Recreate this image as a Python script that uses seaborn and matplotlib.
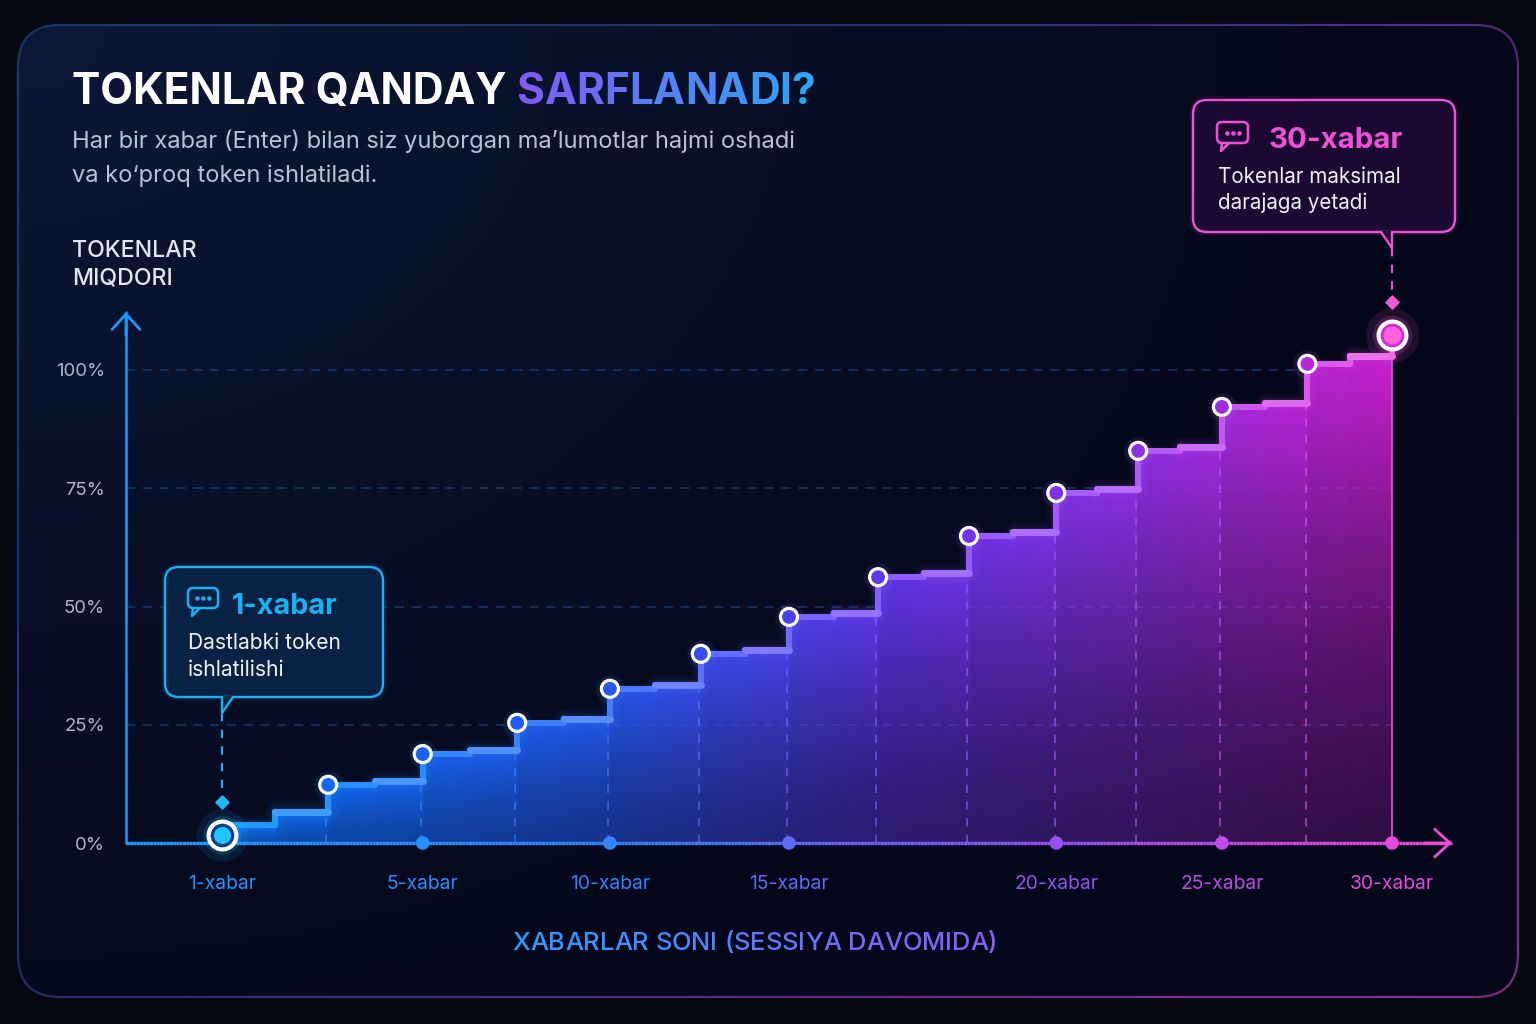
import numpy as np
import pandas as pd
import matplotlib
matplotlib.use("Agg")
import matplotlib.pyplot as plt
import seaborn as sns
from matplotlib.colors import LinearSegmentedColormap, to_rgb, to_rgba
from matplotlib.collections import LineCollection
from matplotlib.patches import FancyBboxPatch, Polygon

# ---------------- data ----------------
msg_pos = [0.0, 1.18, 2.23, 3.28, 4.31, 5.32, 6.30, 7.29, 8.30, 9.27, 10.18, 11.11, 12.06, 13.0]
token_pct = [1.7, 12.3, 18.8, 25.4, 32.6, 40.0, 47.8, 56.2, 64.9, 74.0, 82.9, 92.2, 101.3, 107.4]
plateau_lo = [3.8, 12.3, 18.8, 25.4, 32.6, 40.0, 47.8, 56.2, 64.9, 74.0, 82.9, 92.2, 101.3]
plateau_hi = [6.6, 13.1, 19.6, 26.3, 33.4, 40.8, 48.7, 57.0, 65.7, 74.8, 83.8, 93.0, 103.0]
tick_idx = [0, 2, 4, 6, 9, 11, 13]
tick_labels = ["1-xabar", "5-xabar", "10-xabar", "15-xabar", "20-xabar", "25-xabar", "30-xabar"]
y_ticks = [0, 25, 50, 75, 100]
y_tick_labels = ["0%", "25%", "50%", "75%", "100%"]

title_white = "TOKENLAR QANDAY "
title_grad = "SARFLANADI?"
subtitle = ["Har bir xabar (Enter) bilan siz yuborgan ma\u2019lumotlar hajmi oshadi",
            "va ko\u2018proq token ishlatiladi."]
y_label = ["TOKENLAR", "MIQDORI"]
x_label = "XABARLAR SONI (SESSIYA DAVOMIDA)"
call_first_title = "1-xabar"
call_first_text = ["Dastlabki token", "ishlatilishi"]
call_last_title = "30-xabar"
call_last_text = ["Tokenlar maksimal", "darajaga yetadi"]

# ---------------- style ----------------
sns.set_theme(style="dark")
plt.rcParams['font.family'] = ['Inter', 'DejaVu Sans']
W, H = 1536, 1024
fig = plt.figure(figsize=(W / 100, H / 100), dpi=100)
fig.patch.set_facecolor('#050811')

fill_cmap = LinearSegmentedColormap.from_list("fill", [
    (0.0, '#0d84ff'), (0.13, '#0f6cf6'), (0.36, '#2458ee'), (0.58, '#6236ea'),
    (0.77, '#9030e4'), (0.88, '#b826da'), (1.0, '#dc1ed2')])
line_cmap = LinearSegmentedColormap.from_list("line", [
    (0.0, '#22b0ff'), (0.13, '#2292ff'), (0.36, '#427cff'), (0.58, '#8c5cff'),
    (0.77, '#b05af6'), (0.88, '#d654ef'), (1.0, '#f464e8')])
axis_cmap = LinearSegmentedColormap.from_list("axis", [
    (0.0, '#1a9cff'), (0.35, '#2f86ff'), (0.5, '#5a6cf8'), (0.7, '#9650f2'),
    (0.85, '#c848e6'), (1.0, '#f24ad8')])
frame_cmap = LinearSegmentedColormap.from_list("frame", ['#183a70', '#22336e', '#5a2a82', '#8e2c8e'])

# ---------------- background + frame ----------------
bg = fig.add_axes([0, 0, 1, 1], zorder=0)
bg.set_xlim(0, W); bg.set_ylim(H, 0); bg.axis('off')
frame = FancyBboxPatch((18, 25), 1500, 972, boxstyle="round,pad=0,rounding_size=42",
                       fc='none', ec='none')
bg.add_patch(frame)
gyy, gxx = np.mgrid[0:1:200j, 0:1:300j]
t = np.clip(np.hypot(gxx * 1.2, gyy) / 1.1, 0, 1)
c0, c1 = np.array(to_rgb('#0c1836')), np.array(to_rgb('#05081a'))
bgimg = c0[None, None, :] * (1 - t[..., None]) + c1[None, None, :] * t[..., None]
im_bg = bg.imshow(bgimg, extent=[18, 1518, 997, 25], aspect='auto', zorder=0)
im_bg.set_clip_path(frame)
poly_pts = frame.get_path().to_polygons()[0]
d = np.r_[0, np.cumsum(np.hypot(*np.diff(poly_pts, axis=0).T))]
tt = np.linspace(0, d[-1], 3000)
fx, fy = np.interp(tt, d, poly_pts[:, 0]), np.interp(tt, d, poly_pts[:, 1])
fsegs = np.stack([np.c_[fx[:-1], fy[:-1]], np.c_[fx[1:], fy[1:]]], axis=1)
fval = 0.65 * (fx[:-1] - 18) / 1500 + 0.35 * (fy[:-1] - 25) / 972
bg.add_collection(LineCollection(fsegs, colors=frame_cmap(fval), lw=1.6, zorder=2))

# ---------------- main chart axes ----------------
ax = fig.add_axes([126 / W, (H - 843) / H, 1334 / W, 753 / H], zorder=1)
ax.set_facecolor('none')
for s in ax.spines.values():
    s.set_visible(False)
ax.grid(False)
XL = (-96 / 90, 1238 / 90)
YL = (0, 753 / 4.73)
ax.set_xlim(*XL); ax.set_ylim(*YL)
x_axis_end = 1230 / 90
y_axis_top = 531 / 4.73


def xnorm(x):
    x = np.asarray(x, dtype=float)
    return np.clip((x - XL[0]) / (x_axis_end - XL[0]), 0, 1)


def lighten(c, f):
    c = np.array(to_rgb(c))
    return tuple(c + (1 - c) * f)


# grid lines
for yv in y_ticks[1:]:
    ax.plot([XL[0], msg_pos[-1]], [yv, yv], color='#1b3866', lw=1.1, dashes=(6, 5), zorder=1)

# step path from data
xs, ys = [msg_pos[0]], [plateau_lo[0]]
for i in range(len(msg_pos) - 1):
    xm = (msg_pos[i] + msg_pos[i + 1]) / 2
    xs += [xm, xm, msg_pos[i + 1], msg_pos[i + 1]]
    ys += [plateau_lo[i], plateau_hi[i], plateau_hi[i], token_pct[i + 1]]
xs, ys = np.array(xs), np.array(ys)

# gradient fill
nx, ny = 800, 500
gx = np.linspace(msg_pos[0], msg_pos[-1], nx)
gy = np.linspace(0, 110, ny)
mp = np.array(msg_pos)
idx = np.clip(np.searchsorted(mp, gx, side='right') - 1, 0, len(plateau_lo) - 1)
mid = (mp[idx] + mp[idx + 1]) / 2
level = np.where(gx < mid, np.array(plateau_lo)[idx], np.array(plateau_hi)[idx])
xn = xnorm(gx)
rgb = fill_cmap(xn)[:, :3]
frac = np.clip(gy[:, None] / level[None, :], 0, 1)
base = 0.72 - 0.52 * xn
alpha = base[None, :] + (0.98 - base[None, :]) * frac ** 1.4
img = np.zeros((ny, nx, 4))
img[..., :3] = rgb[None, :, :]
img[..., 3] = alpha
im = ax.imshow(img, extent=[gx[0], gx[-1], 0, 110], origin='lower', aspect='auto',
               interpolation='bilinear', zorder=2)
fill_poly = Polygon(np.c_[np.r_[xs, msg_pos[-1], msg_pos[0]], np.r_[ys, 0, 0]], closed=True,
                    transform=ax.transData, fc='none', ec='none')
ax.add_patch(fill_poly)
im.set_clip_path(fill_poly)

# vertical guide lines at each step
for i in range(1, len(msg_pos) - 1):
    c = to_rgba(line_cmap(float(xnorm(msg_pos[i]))), 0.7)
    ax.plot([msg_pos[i] - 0.02] * 2, [0, token_pct[i] - 2], color=c, lw=1.2, dashes=(5, 5), zorder=3)
ax.plot([msg_pos[-1]] * 2, [0, token_pct[-1]], color='#f050d8', lw=1.4, alpha=0.85, zorder=3)

# soft glow for the step line (per interval)
cut = [0] + [1 + 4 * (i + 1) for i in range(len(msg_pos) - 1)]
for i in range(len(msg_pos) - 1):
    seg_x = xs[cut[i]:cut[i + 1]]
    seg_y = ys[cut[i]:cut[i + 1]]
    c = line_cmap(float(xnorm((msg_pos[i] + msg_pos[i + 1]) / 2)))
    for lw_g, a_g in ((14, 0.05), (9, 0.08)):
        ax.plot(seg_x, seg_y, color=c, lw=lw_g, alpha=a_g, solid_capstyle='round',
                solid_joinstyle='round', zorder=3.5)

# gradient step line
dd = np.r_[0, np.cumsum(np.hypot(np.diff(xs) * 90, np.diff(ys) * 4.73))]
ts = np.linspace(0, dd[-1], 2500)
lx, ly = np.interp(ts, dd, xs), np.interp(ts, dd, ys)
segs = np.stack([np.c_[lx[:-1], ly[:-1]], np.c_[lx[1:], ly[1:]]], axis=1)
ax.add_collection(LineCollection(segs, colors=line_cmap(xnorm(lx[:-1])), lw=4.4,
                                 capstyle='round', joinstyle='round', zorder=4))
# lighter second half of each plateau
for i in range(len(msg_pos) - 1):
    xm = (msg_pos[i] + msg_pos[i + 1]) / 2
    c = lighten(line_cmap(float(xnorm(msg_pos[i + 1]))), 0.12)
    ax.plot([xm, msg_pos[i + 1]], [plateau_hi[i], plateau_hi[i]], color=c, lw=5.0,
            solid_capstyle='round', zorder=4.2)

# axes lines
ax.plot([XL[0], XL[0]], [0, y_axis_top], color='#1a9bff', lw=1.8, clip_on=False, zorder=5,
        solid_capstyle='round')
ax.annotate('', xy=(XL[0], y_axis_top), xytext=(XL[0], y_axis_top - 5),
            arrowprops=dict(arrowstyle='->,head_length=0.55,head_width=0.5', color='#1a9bff',
                            lw=2, shrinkA=0, shrinkB=0, mutation_scale=20),
            annotation_clip=False, zorder=5)
axx = np.linspace(XL[0], x_axis_end, 400)
asegs = np.stack([np.c_[axx[:-1], np.zeros(399)], np.c_[axx[1:], np.zeros(399)]], axis=1)
ax.add_collection(LineCollection(asegs, colors=axis_cmap(xnorm(axx[:-1])), lw=2.4,
                                 zorder=5, clip_on=False))
ax.annotate('', xy=(x_axis_end, 0), xytext=(x_axis_end - 0.3, 0),
            arrowprops=dict(arrowstyle='->,head_length=0.55,head_width=0.5', color='#f24ad8',
                            lw=2, shrinkA=0, shrinkB=0, mutation_scale=20),
            annotation_clip=False, zorder=5)

# dots on the x-axis at labelled steps
dot_x = [msg_pos[i] for i in tick_idx[1:]]
ax.scatter(dot_x, [0] * len(dot_x), s=95, c=axis_cmap(xnorm(dot_x)), zorder=5.5,
           clip_on=False, linewidths=0)

# markers (seaborn)
df = pd.DataFrame({'pos': msg_pos, 'pct': token_pct,
                   'key': [f"m{i}" for i in range(len(msg_pos))]})
mid_df = df.iloc[1:-1]
pal = {k: fill_cmap(float(xnorm(p)) * 0.97 + 0.02) for k, p in zip(mid_df['key'], mid_df['pos'])}
for k, p, v in zip(mid_df['key'], mid_df['pos'], mid_df['pct']):
    ax.scatter([p], [v], s=420, color=line_cmap(float(xnorm(p))),
               alpha=0.12, linewidths=0, zorder=5.8)
sns.scatterplot(data=mid_df, x='pos', y='pct', hue='key', palette=pal, s=150,
                edgecolor='white', linewidth=2.3, legend=False, ax=ax, zorder=6)

# first marker
ax.scatter([msg_pos[0]], [token_pct[0]], s=1400, color='#19b8ff', alpha=0.10, linewidths=0, zorder=5.8, clip_on=False)
ax.scatter([msg_pos[0]], [token_pct[0]], s=760, color='#19b8ff', alpha=0.18, linewidths=0, zorder=5.8, clip_on=False)
ax.scatter([msg_pos[0]], [token_pct[0]], s=400, color='#0b3c8c', edgecolors='white', linewidths=3.0, zorder=6, clip_on=False)
ax.scatter([msg_pos[0]], [token_pct[0]], s=150, color='#1ec8ff', linewidths=0, zorder=6.1, clip_on=False)
# last marker
ax.scatter([msg_pos[-1]], [token_pct[-1]], s=1500, color='#ff4fd8', alpha=0.10, linewidths=0, zorder=5.8)
ax.scatter([msg_pos[-1]], [token_pct[-1]], s=800, color='#ff4fd8', alpha=0.20, linewidths=0, zorder=5.8)
ax.scatter([msg_pos[-1]], [token_pct[-1]], s=400, color='#d42ad2', edgecolors='white', linewidths=3.0, zorder=6)
ax.scatter([msg_pos[-1]], [token_pct[-1]], s=170, color='#ff62dc', linewidths=0, zorder=6.1)

ax.set_xlim(*XL); ax.set_ylim(*YL)
ax.set_xlabel(''); ax.set_ylabel('')

# ---------------- overlay for text and callouts ----------------
ov = fig.add_axes([0, 0, 1, 1], zorder=3)
ov.set_xlim(0, W); ov.set_ylim(H, 0); ov.axis('off'); ov.set_facecolor('none')
renderer = fig.canvas.get_renderer()


def text_w(s, size, weight='normal'):
    tx = ov.text(0, 0, s, fontsize=size, fontweight=weight)
    w = tx.get_window_extent(renderer=renderer).width
    tx.remove()
    return w


def fit(s, target, weight='normal'):
    return 20 * target / text_w(s, 20, weight)


def grad_text(x, y, s, c_start, c_end, size, weight, ha='left'):
    if ha == 'center':
        x = x - text_w(s, size, weight) / 2
    hw = text_w('H', size, weight)
    cs, ce = np.array(to_rgb(c_start)), np.array(to_rgb(c_end))
    n = len(s)
    for i, ch in enumerate(s):
        if ch == ' ':
            continue
        off = 0 if i == 0 else text_w(s[:i] + 'H', size, weight) - hw
        f = i / max(n - 1, 1)
        ov.text(x + off, y, ch, fontsize=size, fontweight=weight, color=tuple(cs * (1 - f) + ce * f),
                va='baseline', ha='left')


# title
ts_size = fit(title_white + title_grad, 746, 'bold')
ov.text(72, 104, title_white, fontsize=ts_size, fontweight='bold', color='white', va='baseline')
gx0 = 72 + text_w(title_white + 'H', ts_size, 'bold') - text_w('H', ts_size, 'bold')
grad_text(gx0, 104, title_grad, '#7f5bf6', '#28a8f6', ts_size, 'bold')

# subtitle
st_size = fit(subtitle[0], 723)
ov.text(72, 148, subtitle[0], fontsize=st_size, color='#b9c1d6', va='baseline')
ov.text(72, 182, subtitle[1], fontsize=st_size, color='#b9c1d6', va='baseline')

# y label
yl_size = fit(y_label[0], 125, 'medium')
ov.text(72, 257, y_label[0], fontsize=yl_size, fontweight='medium', color='#e2e7f2', va='baseline')
ov.text(72, 285, y_label[1], fontsize=yl_size, fontweight='medium', color='#e2e7f2', va='baseline')

# x label
xl_size = fit(x_label, 486, 'medium')
grad_text(755, 950, x_label, '#2b9dff', '#8b5cf6', xl_size, 'medium', ha='center')

# ticks
tk_size = fit(tick_labels[4], 84)
ax.set_xticks([msg_pos[i] for i in tick_idx], tick_labels)
ax.tick_params(axis='x', length=0, pad=23, labelsize=tk_size)
for lab, i in zip(ax.get_xticklabels(), tick_idx):
    lab.set_color(axis_cmap(float(xnorm(msg_pos[i]))))
yt_size = fit(y_tick_labels[-1], 49)
ax.set_yticks(y_ticks, y_tick_labels)
ax.tick_params(axis='y', length=0, pad=15, labelsize=yt_size, labelcolor='#aeb8cc')


def to_ov(pt):
    dx, dy = ax.transData.transform(pt)
    return dx, H - dy


def chat_icon(x, y, w, h, color):
    ov.add_patch(FancyBboxPatch((x, y), w, h, boxstyle="round,pad=0,rounding_size=5",
                                fc='none', ec=color, lw=1.8, zorder=5))
    ov.plot([x + 5, x + 4, x + 12], [y + h, y + h + 8, y + h], color=color, lw=1.8, zorder=5,
            solid_joinstyle='round')
    ov.scatter([x + w / 2 - 6, x + w / 2, x + w / 2 + 6], [y + h / 2] * 3, s=5, color=color, zorder=5)


def callout(x, y, w, h, tail_x, tail_dir, edge, face, title, lines, tsize, bsize, title_x, title_base,
            text_x, line_base, icon):
    ov.add_patch(FancyBboxPatch((x, y), w, h, boxstyle="round,pad=0,rounding_size=14",
                                fc='none', ec=to_rgba(edge, 0.10), lw=5, zorder=3))
    ov.add_patch(FancyBboxPatch((x, y), w, h, boxstyle="round,pad=0,rounding_size=14",
                                fc=face, ec=edge, lw=1.7, zorder=4))
    yb = y + h
    if tail_dir == 'left':
        tri = [(tail_x, yb - 1), (tail_x + 11, yb - 1), (tail_x, yb + 16)]
    else:
        tri = [(tail_x - 11, yb - 1), (tail_x, yb - 1), (tail_x, yb + 16)]
    ov.add_patch(Polygon(tri, closed=True, fc=face, ec='none', zorder=4.5))
    ov.plot([tri[0][0], tri[2][0]], [yb, tri[2][1]], color=edge, lw=1.7, zorder=4.6)
    ov.plot([tri[1][0], tri[2][0]], [yb, tri[2][1]], color=edge, lw=1.7, zorder=4.6)
    chat_icon(*icon, edge)
    ov.text(title_x, title_base, title, fontsize=tsize, fontweight='bold', color=edge, va='baseline', zorder=5)
    for ln, b in zip(lines, line_base):
        ov.text(text_x, b, ln, fontsize=bsize, color='#eef1f8', va='baseline', zorder=5)
    return tri[2]


# first callout
p0x, p0y = to_ov((msg_pos[0], token_pct[0]))
c1_t = fit(call_first_title, 106, 'bold')
c1_b = fit(call_first_text[0], 153)
tip = callout(165, 567, 218, 130, p0x, 'left', '#1ab0f5', to_rgba('#0a2245', 0.96), call_first_title,
              call_first_text, c1_t, c1_b, 232, 614, 188, [649, 676], (188, 588, 30, 20))
ov.plot([p0x, p0x], [tip[1], p0y - 38], color='#1ab0f5', lw=1.5, dashes=(4, 4), zorder=5)
ov.scatter([p0x], [p0y - 33], marker='D', s=45, color='#1ab8f8', zorder=5)

# last callout
pNx, pNy = to_ov((msg_pos[-1], token_pct[-1]))
c2_t = fit(call_last_title, 134, 'bold')
c2_b = fit(call_last_text[0], 183)
tip2 = callout(1193, 100, 262, 132, pNx, 'right', '#f050d8', to_rgba('#1d0a34', 0.96), call_last_title,
               call_last_text, c2_t, c2_b, 1268, 148, 1218, [183, 209], (1217, 122, 31, 21))
ov.plot([pNx, pNx], [tip2[1], pNy - 40], color='#f050d8', lw=1.5, dashes=(4, 4), zorder=5)
ov.scatter([pNx], [pNy - 33], marker='D', s=45, color='#f25ad8', zorder=5)

fig.savefig('out.png', dpi=100, facecolor=fig.get_facecolor())
